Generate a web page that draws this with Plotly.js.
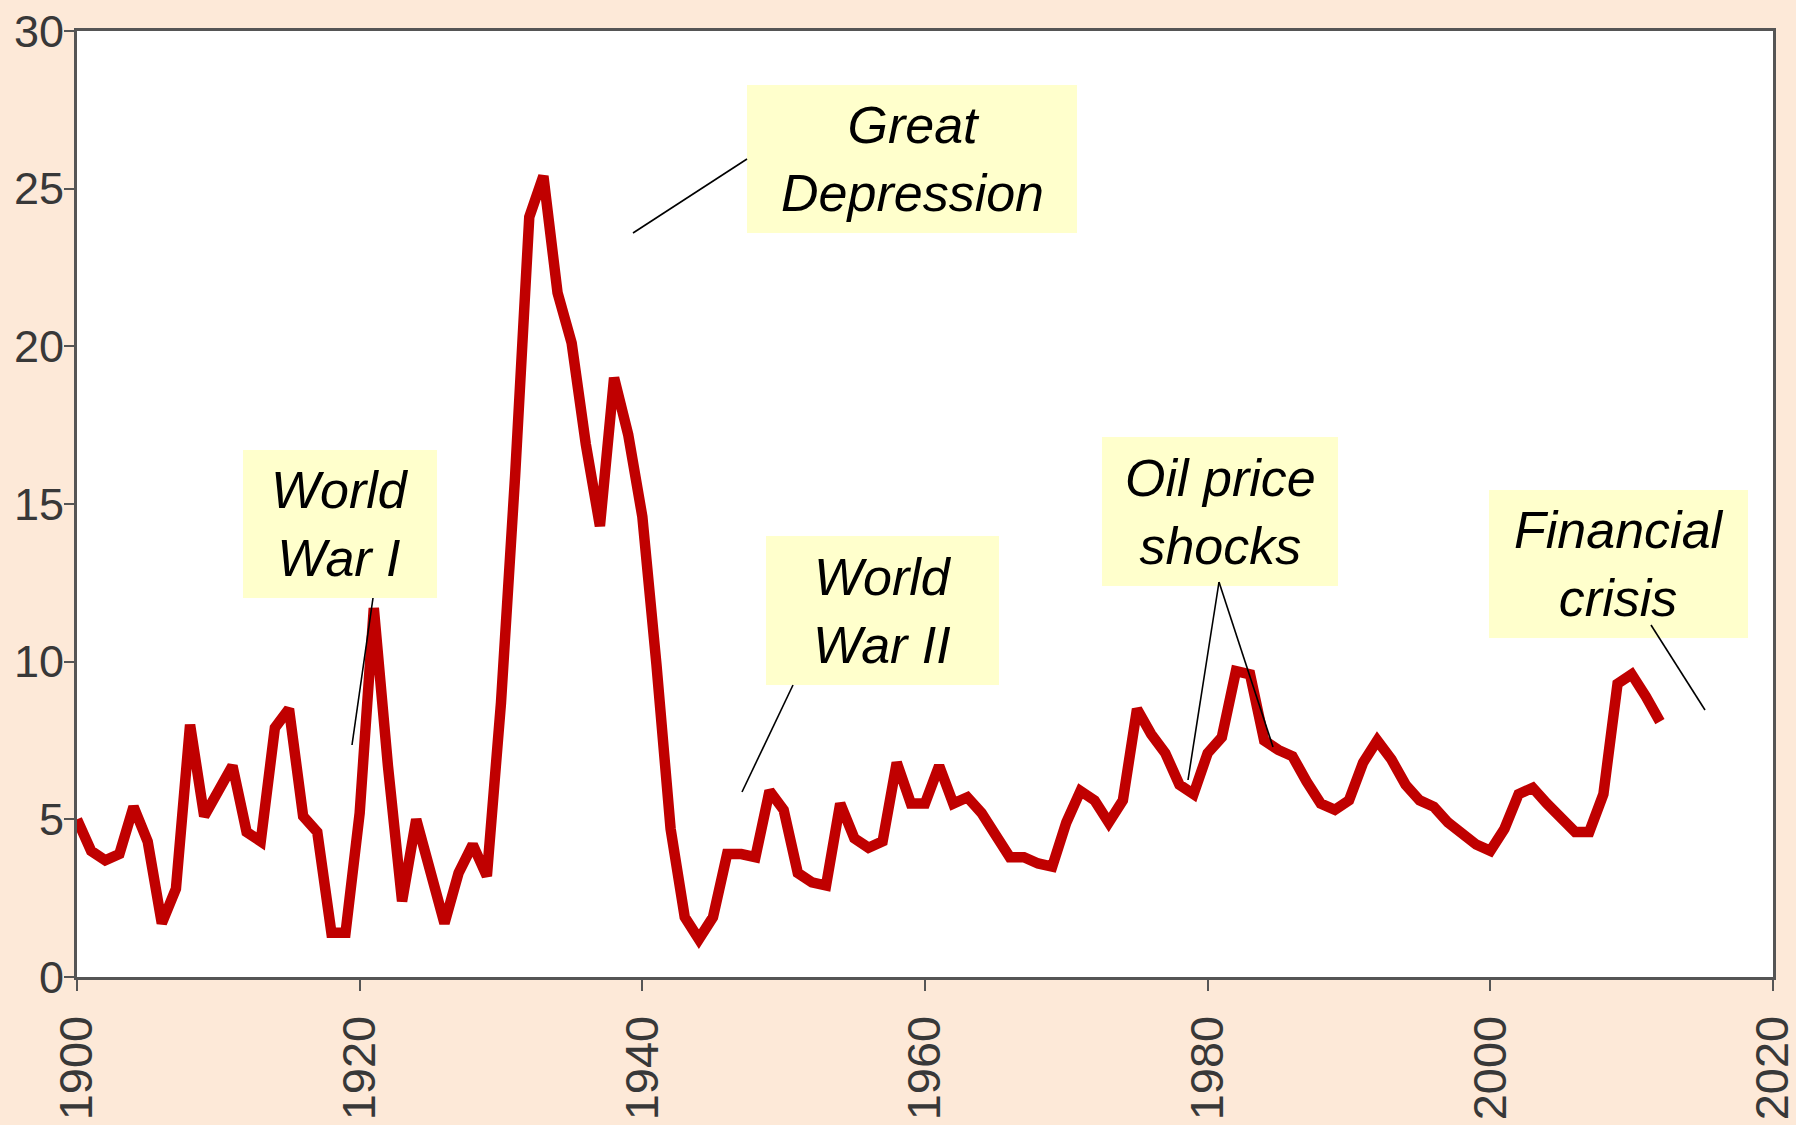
<!DOCTYPE html>
<html>
<head>
<meta charset="utf-8">
<script src="https://cdn.plot.ly/plotly-3.0.1.min.js"></script>
<style>
  html, body { margin: 0; padding: 0; background: #fde9d8; }
  #chart { width: 1796px; height: 1125px; }
</style>
</head>
<body>
<div id="chart"></div>
<script>
// ---- Data (US unemployment rate, %) ----
const years = [
  1900,1901,1902,1903,1904,1905,1906,1907,1908,1909,
  1910,1911,1912,1913,1914,1915,1916,1917,1918,1919,
  1920,1921,1922,1923,1924,1925,1926,1927,1928,1929,
  1930,1931,1932,1933,1934,1935,1936,1937,1938,1939,
  1940,1941,1942,1943,1944,1945,1946,1947,1948,1949,
  1950,1951,1952,1953,1954,1955,1956,1957,1958,1959,
  1960,1961,1962,1963,1964,1965,1966,1967,1968,1969,
  1970,1971,1972,1973,1974,1975,1976,1977,1978,1979,
  1980,1981,1982,1983,1984,1985,1986,1987,1988,1989,
  1990,1991,1992,1993,1994,1995,1996,1997,1998,1999,
  2000,2001,2002,2003,2004,2005,2006,2007,2008,2009,
  2010,2011,2012
];
const unemployment = [
  5.0,4.0,3.7,3.9,5.4,4.3,1.7,2.8,8.0,5.1,
  5.9,6.7,4.6,4.3,7.9,8.5,5.1,4.6,1.4,1.4,
  5.2,11.7,6.7,2.4,5.0,3.2,1.7,3.3,4.2,3.2,
  8.7,15.9,24.1,25.4,21.7,20.1,16.9,14.3,19.0,17.2,
  14.6,9.9,4.7,1.9,1.2,1.9,3.9,3.9,3.8,5.9,
  5.3,3.3,3.0,2.9,5.5,4.4,4.1,4.3,6.8,5.5,
  5.5,6.7,5.5,5.7,5.2,4.5,3.8,3.8,3.6,3.5,
  4.9,5.9,5.6,4.9,5.6,8.5,7.7,7.1,6.1,5.8,
  7.1,7.6,9.7,9.6,7.5,7.2,7.0,6.2,5.5,5.3,
  5.6,6.8,7.5,6.9,6.1,5.6,5.4,4.9,4.5,4.2,
  4.0,4.7,5.8,6.0,5.5,5.1,4.6,4.6,5.8,9.3,
  9.6,8.9,8.1
];
const xTickVals = [1900,1920,1940,1960,1980,2000,2020];
const yTickVals = [0,5,10,15,20,25,30];
const labelTexts = ["World<br>War I","Great<br>Depression","World<br>War II","Oil price<br>shocks","Financial<br>crisis"];

// ---- Layout geometry (pixels of the 1796x1125 page) ----
const L = 77, R = 1773, T = 31, B = 977;
const px = p => (p - L) / (R - L);
const py = p => (B - p) / (B - T);

const boxes = [
  [243, 450, 437, 598],
  [747, 85, 1077, 233],
  [766, 536, 999, 685],
  [1102, 437, 1338, 586],
  [1489, 490, 1748, 638]
];
const pointers = [
  [373, 598, 352, 745],
  [747, 159, 633, 233],
  [793, 685, 742, 792],
  [1219, 582, 1188, 780],
  [1219, 582, 1273, 747],
  [1651, 625, 1705, 710]
];

const shapes = [];
boxes.forEach(b => shapes.push({
  type: 'rect', xref: 'paper', yref: 'paper',
  x0: px(b[0]), x1: px(b[2]), y0: py(b[3]), y1: py(b[1]),
  fillcolor: '#ffffcc', line: {width: 0}, layer: 'above'
}));
pointers.forEach(p => shapes.push({
  type: 'line', xref: 'paper', yref: 'paper',
  x0: px(p[0]), y0: py(p[1]), x1: px(p[2]), y1: py(p[3]),
  line: {color: '#000000', width: 1.6}, layer: 'above'
}));

const annotations = labelTexts.map((t, i) => {
  const b = boxes[i];
  return {
    xref: 'paper', yref: 'paper',
    x: px((b[0] + b[2]) / 2), y: py((b[1] + b[3]) / 2),
    xanchor: 'center', yanchor: 'middle',
    text: t, showarrow: false, align: 'center',
    font: {family: 'Liberation Sans, Arial, sans-serif', size: 52, color: '#000000', style: 'italic'}
  };
});

const trace = {
  x: years, y: unemployment,
  type: 'scatter', mode: 'lines',
  line: {color: '#c00000', width: 10.5, shape: 'linear'},
  hoverinfo: 'x+y'
};

const yTickFont = {family: 'Liberation Sans, Arial, sans-serif', size: 45, color: '#383838'};
const xTickFont = {family: 'Liberation Sans, Arial, sans-serif', size: 47, color: '#383838'};

const layout = {
  width: 1796, height: 1125,
  paper_bgcolor: '#fde9d8',
  plot_bgcolor: '#ffffff',
  margin: {l: L, r: 1796 - R, t: T, b: 1125 - B, pad: 0},
  showlegend: false,
  xaxis: {
    range: [1900, 2020], tickvals: xTickVals, ticktext: xTickVals.map(String),
    tickangle: -90, tickfont: xTickFont, ticklabelstandoff: 6, ticklabeloverflow: 'allow',
    showgrid: false, zeroline: false,
    ticks: 'outside', ticklen: 11, tickwidth: 2, tickcolor: '#555555',
    showline: true, linecolor: '#555555', linewidth: 3, mirror: true
  },
  yaxis: {
    range: [0, 30], tickvals: yTickVals, ticktext: yTickVals.map(String),
    tickfont: yTickFont, ticklabelstandoff: -9, ticklabeloverflow: 'allow',
    showgrid: false, zeroline: false,
    ticks: 'outside', ticklen: 10, tickwidth: 2, tickcolor: '#555555',
    showline: true, linecolor: '#555555', linewidth: 3, mirror: true
  },
  shapes: shapes,
  annotations: annotations
};

Plotly.newPlot('chart', [trace], layout, {displayModeBar: false, staticPlot: true});
</script>
</body>
</html>
